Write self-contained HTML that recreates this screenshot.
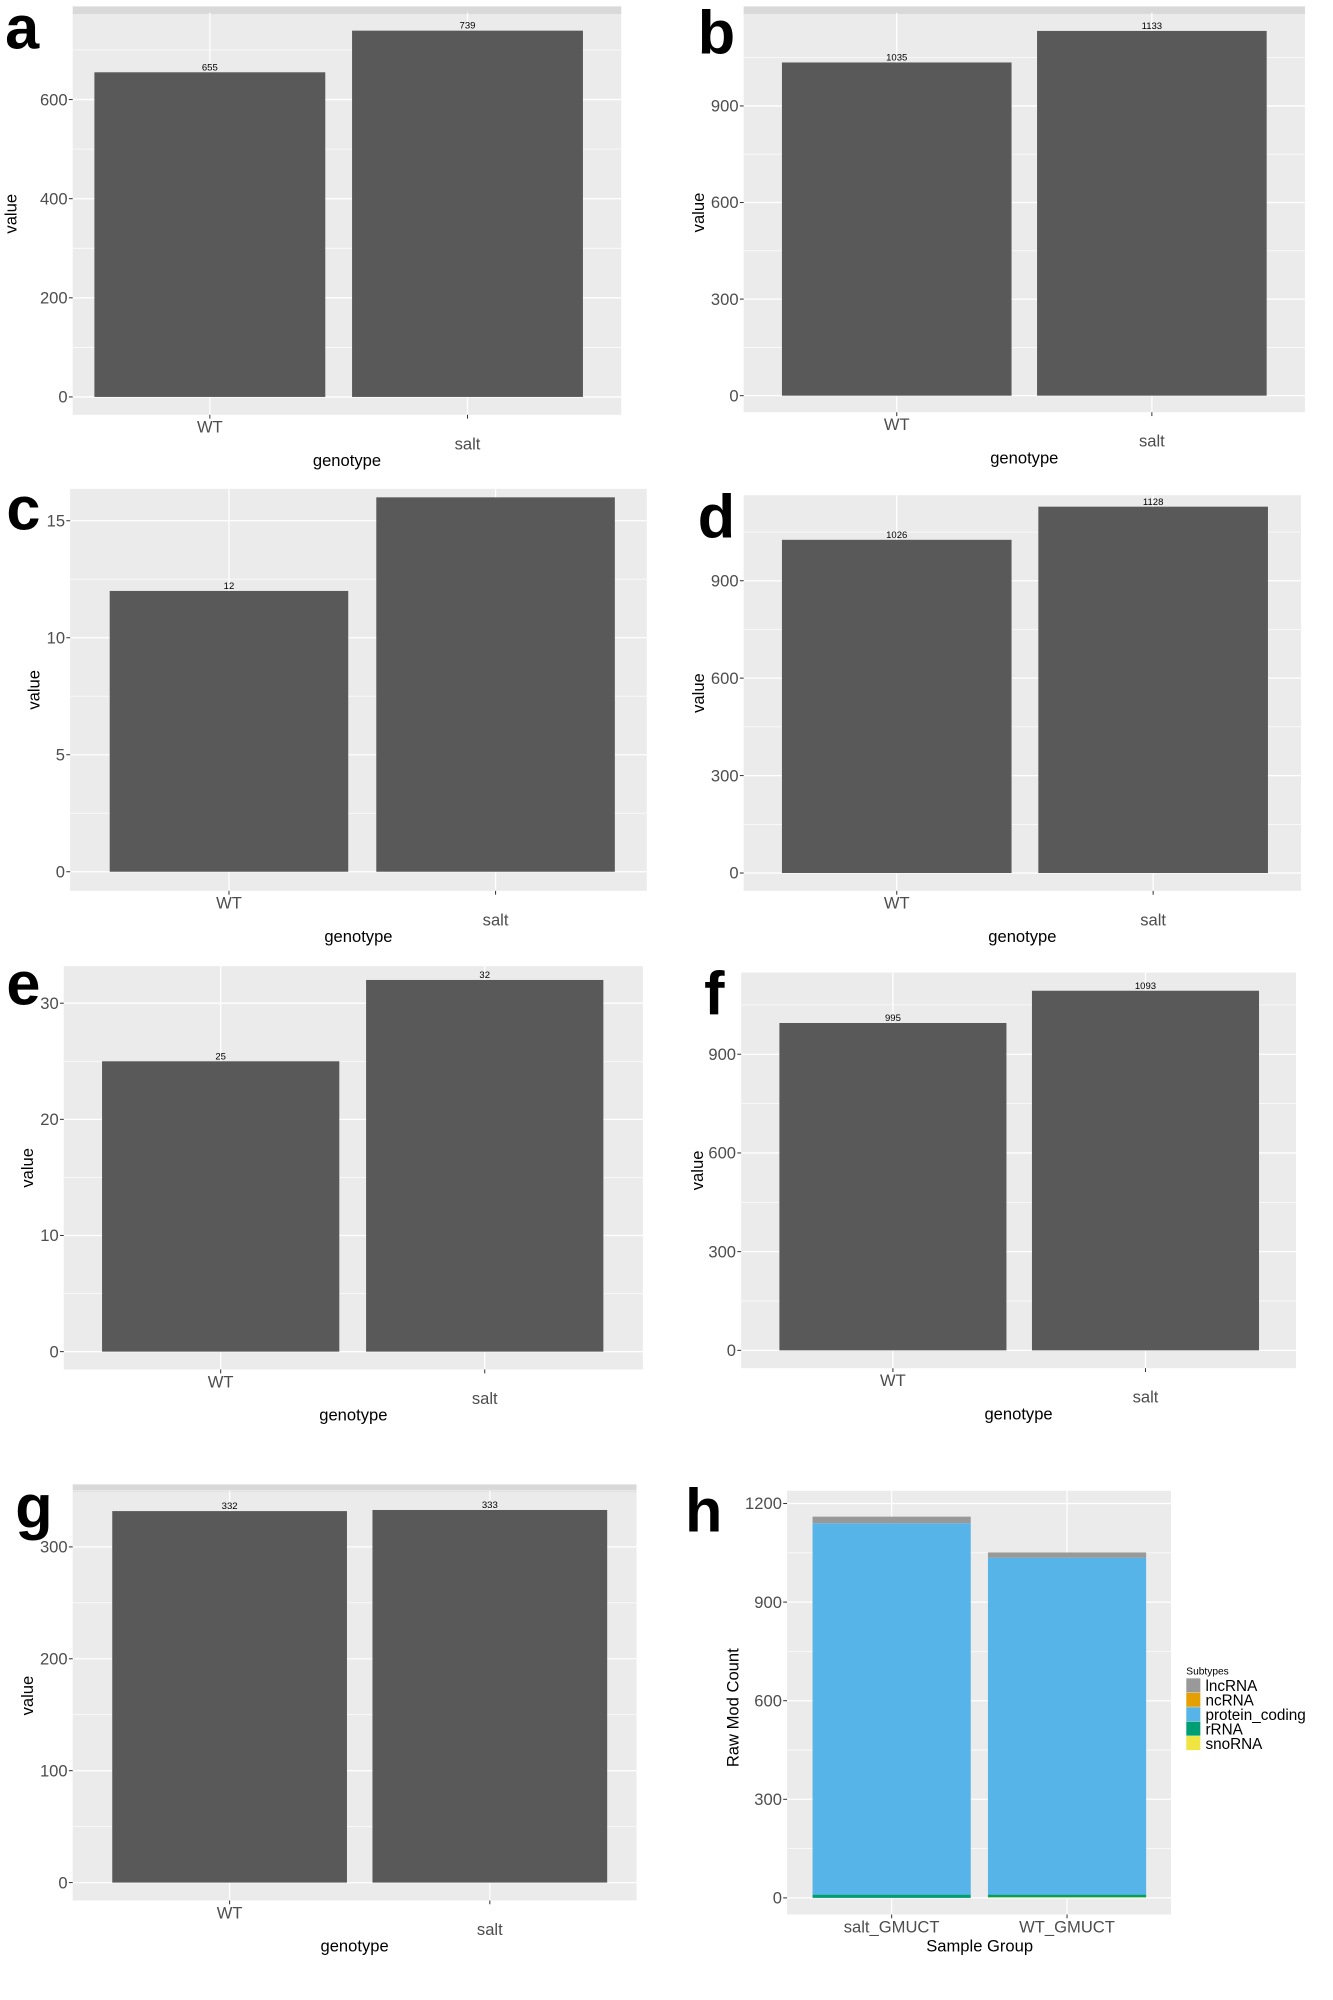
<!DOCTYPE html>
<html><head><meta charset="utf-8"><style>
html,body{margin:0;padding:0;background:#fff;}
svg{display:block;font-family:"Liberation Sans","DejaVu Sans",sans-serif;}
</style></head>
<body>
<svg id="fig" width="1333" height="2000" viewBox="0 0 1045 1567" preserveAspectRatio="none" xmlns="http://www.w3.org/2000/svg"></svg>
<script>
// ---- data ----
const categories = ["WT", "salt"];
const valuesA = [655, 739];
const valuesB = [1035, 1133];
const valuesC = [12, 16];
const valuesD = [1026, 1128];
const valuesE = [25, 32];
const valuesF = [995, 1093];
const valuesG = [332, 333];
const ticksA = [0, 200, 400, 600];
const ticksB = [0, 300, 600, 900];
const ticksC = [0, 5, 10, 15];
const ticksD = [0, 300, 600, 900];
const ticksE = [0, 10, 20, 30];
const ticksF = [0, 300, 600, 900];
const ticksG = [0, 100, 200, 300];
const hGroups = ["salt_GMUCT", "WT_GMUCT"];
const hSubtypes = ["lncRNA", "ncRNA", "protein_coding", "rRNA", "snoRNA"];
const hLncRNA = [20, 16];
const hNcRNA = [0, 0];
const hProtein = [1130, 1025];
const hRRNA = [10, 8];
const hSnoRNA = [0, 2];
const ticksH = [0, 300, 600, 900, 1200];

const NS = "http://www.w3.org/2000/svg";
const svg = document.getElementById("fig");
function mk(tag, attrs, parent) {
  const e = document.createElementNS(NS, tag);
  for (const k in attrs) e.setAttribute(k, attrs[k]);
  (parent || svg).appendChild(e);
  return e;
}
function txt(s, attrs, parent) { const t = mk("text", attrs, parent); t.textContent = s; return t; }

function panel(cfg, cats, vals, ticks) {
  const g = mk("g", {});
  
  
  const unit = (cfg.y0 - cfg.yT) / cfg.tV;
  const Y = v => cfg.y0 - v * unit;
  const X = i => cfg.xc0 + (cfg.xc1 - cfg.xc0) * i;
  const bg = mk("rect", {x: cfg.px0, y: cfg.py0, width: cfg.px1 - cfg.px0, height: cfg.py1 - cfg.py0, fill: "#EBEBEB"}, g);
  
  
  if (cfg.strip) {
    const s = mk("rect", {x: cfg.px0, y: cfg.py0 - 5, width: cfg.px1 - cfg.px0, height: 6, fill: "#D9D9D9"}, g);
    
    
  }
  const step = ticks[1] - ticks[0];
  for (let v = ticks[0] - step / 2; ; v += step) {
    const y = Y(v);
    if (y < cfg.py0) break;
    if (y > cfg.py1) continue;
    mk("line", {x1: cfg.px0, x2: cfg.px1, y1: y, y2: y, stroke: "#fff", "stroke-width": 0.5}, g);
  }
  ticks.forEach(v => {
    const y = Y(v);
    const gl = mk("line", {x1: cfg.px0, x2: cfg.px1, y1: y, y2: y, stroke: "#fff", "stroke-width": 1}, g);
    
    
    mk("line", {x1: cfg.px0 - 3, x2: cfg.px0, y1: y, y2: y, stroke: "#333", "stroke-width": 0.8}, g);
    const t = txt(String(v), {x: cfg.px0 - 4, y: y + 4.5, "text-anchor": "end", "font-size": 13, fill: "#4D4D4D"}, g);
    
    
  });
  cats.forEach((c, i) => {
    const x = X(i);
    mk("line", {x1: x, x2: x, y1: cfg.py0, y2: cfg.py1, stroke: "#fff", "stroke-width": 1}, g);
    mk("line", {x1: x, x2: x, y1: cfg.py1, y2: cfg.py1 + 3, stroke: "#333", "stroke-width": 0.8}, g);
    const ly = cfg.py1 + 14 + (i === 1 ? 13 : 0);
    const t = txt(c, {x: x, y: ly, "text-anchor": "middle", "font-size": 13, fill: "#4D4D4D"}, g);
    
    
    const bwid = cfg.bw;
    const r = mk("rect", {x: x - bwid / 2, y: Y(vals[i]), width: bwid, height: Y(0) - Y(vals[i]), fill: "#595959"}, g);
    
    
    const ty = Y(vals[i]) - 1.5;
    if (ty > cfg.py0 + 6) {
      const vl = txt(String(vals[i]), {x: x, y: ty, "text-anchor": "middle", "font-size": 7.5, fill: "#000"}, g);
      
      
    }
  });
  const xt = txt("genotype", {x: (cfg.px0 + cfg.px1) / 2, y: cfg.py1 + 40, "text-anchor": "middle", "font-size": 13, fill: "#000"}, g);
  
  
  const yc = (cfg.py0 + cfg.py1) / 2;
  const yt = txt("value", {x: cfg.vx, y: yc, "text-anchor": "middle", "font-size": 13, fill: "#000", transform: `rotate(-90 ${cfg.vx} ${yc})`}, g);
  
  
  const pl = txt(cfg.id, {x: cfg.lx, y: cfg.ly, "font-size": 48, "font-weight": "bold", fill: "#000"}, g);
  
  
}

panel({id: "a", px0: 57, px1: 487, py0: 10, py1: 325, y0: 311, yT: 78, tV: 600, xc0: 164.5, xc1: 366.5, bw: 181, vx: 13, lx: 4, ly: 38, strip: true}, categories, valuesA, ticksA);
panel({id: "b", px0: 583, px1: 1023, py0: 10, py1: 323, y0: 310, yT: 83, tV: 900, xc0: 703, xc1: 903, bw: 180, vx: 552, lx: 547, ly: 42, strip: true}, categories, valuesB, ticksB);
panel({id: "c", px0: 55, px1: 507, py0: 383, py1: 698, y0: 683, yT: 408, tV: 15, xc0: 179.5, xc1: 388.5, bw: 187, vx: 31, lx: 5, ly: 415}, categories, valuesC, ticksC);
panel({id: "d", px0: 583, px1: 1020, py0: 388, py1: 698, y0: 684, yT: 455, tV: 900, xc0: 703, xc1: 904, bw: 180, vx: 552, lx: 547, ly: 421}, categories, valuesD, ticksD);
panel({id: "e", px0: 50, px1: 504, py0: 757, py1: 1073, y0: 1059, yT: 786, tV: 30, xc0: 173, xc1: 380, bw: 186, vx: 26, lx: 5, ly: 787}, categories, valuesE, ticksE);
panel({id: "f", px0: 581, px1: 1016, py0: 762, py1: 1072, y0: 1058, yT: 826, tV: 900, xc0: 700, xc1: 898, bw: 178, vx: 551, lx: 552, ly: 795}, categories, valuesF, ticksF);
panel({id: "g", px0: 57, px1: 499, py0: 1168, py1: 1489, y0: 1475, yT: 1212, tV: 300, xc0: 180, xc1: 384, bw: 184, vx: 26, lx: 12, ly: 1197, strip: true}, categories, valuesG, ticksG);

// ---- panel h (stacked) ----
(function () {
  const g = mk("g", {});
  
  
  const px0 = 617, px1 = 918, py0 = 1168, py1 = 1500;
  const y0 = 1487, yT = 1178, tV = 1200;
  const unit = (y0 - yT) / tV;
  const Y = v => y0 - v * unit;
  const bg = mk("rect", {x: px0, y: py0, width: px1 - px0, height: py1 - py0, fill: "#EBEBEB"}, g);
  
  
  for (let v = 150; Y(v) > py0; v += 300) mk("line", {x1: px0, x2: px1, y1: Y(v), y2: Y(v), stroke: "#fff", "stroke-width": 0.5}, g);
  ticksH.forEach(v => {
    const gl = mk("line", {x1: px0, x2: px1, y1: Y(v), y2: Y(v), stroke: "#fff", "stroke-width": 1}, g);
    
    
    mk("line", {x1: px0 - 3, x2: px0, y1: Y(v), y2: Y(v), stroke: "#333", "stroke-width": 0.8}, g);
    const t = txt(String(v), {x: px0 - 4, y: Y(v) + 4.5, "text-anchor": "end", "font-size": 13, fill: "#4D4D4D"}, g);
    
    
  });
  const colors = {lncRNA: "#999999", ncRNA: "#E69F00", protein_coding: "#56B4E9", rRNA: "#009E73", snoRNA: "#F0E442"};
  const series = {lncRNA: hLncRNA, ncRNA: hNcRNA, protein_coding: hProtein, rRNA: hRRNA, snoRNA: hSnoRNA};
  const xc0 = 699, xc1 = 836.5, w = 124;
  const X = i => xc0 + (xc1 - xc0) * i;
  hGroups.forEach((grp, i) => {
    const x = X(i);
    mk("line", {x1: x, x2: x, y1: py0, y2: py1, stroke: "#fff", "stroke-width": 1}, g);
    mk("line", {x1: x, x2: x, y1: py1, y2: py1 + 3, stroke: "#333", "stroke-width": 0.8}, g);
    let base = 0;
    const order = ["snoRNA", "rRNA", "protein_coding", "ncRNA", "lncRNA"];
    order.forEach(s => {
      const v = series[s][i];
      if (v <= 0) return;
      const r = mk("rect", {x: x - w / 2, y: Y(base + v), width: w, height: Y(base) - Y(base + v), fill: colors[s]}, g);
      
      
      base += v;
    });
    const t = txt(grp, {x: x, y: py1 + 14, "text-anchor": "middle", "font-size": 13, fill: "#4D4D4D"}, g);
    
    
  });
  const xt = txt("Sample Group", {x: 768, y: 1529, "text-anchor": "middle", "font-size": 13, fill: "#000"}, g);
  
  
  const yt = txt("Raw Mod Count", {x: 579, y: 1338, "text-anchor": "middle", "font-size": 13, fill: "#000", transform: "rotate(-90 579 1338)"}, g);
  
  
  const pl = txt("h", {x: 537, y: 1200, "font-size": 48, "font-weight": "bold", fill: "#000"}, g);
  
  
  const lt = txt("Subtypes", {x: 930, y: 1312, "font-size": 8, fill: "#000"}, g);
  
  
  hSubtypes.forEach((s, k) => {
    const ly = 1315 + k * 11.3;
    const kr = mk("rect", {x: 930, y: ly, width: 11, height: 11, fill: colors[s]}, g);
    
    
    const t = txt(s, {x: 945, y: ly + 10, "font-size": 12, fill: "#000"}, g);
    
    
  });
})();
</script>
</body></html>
